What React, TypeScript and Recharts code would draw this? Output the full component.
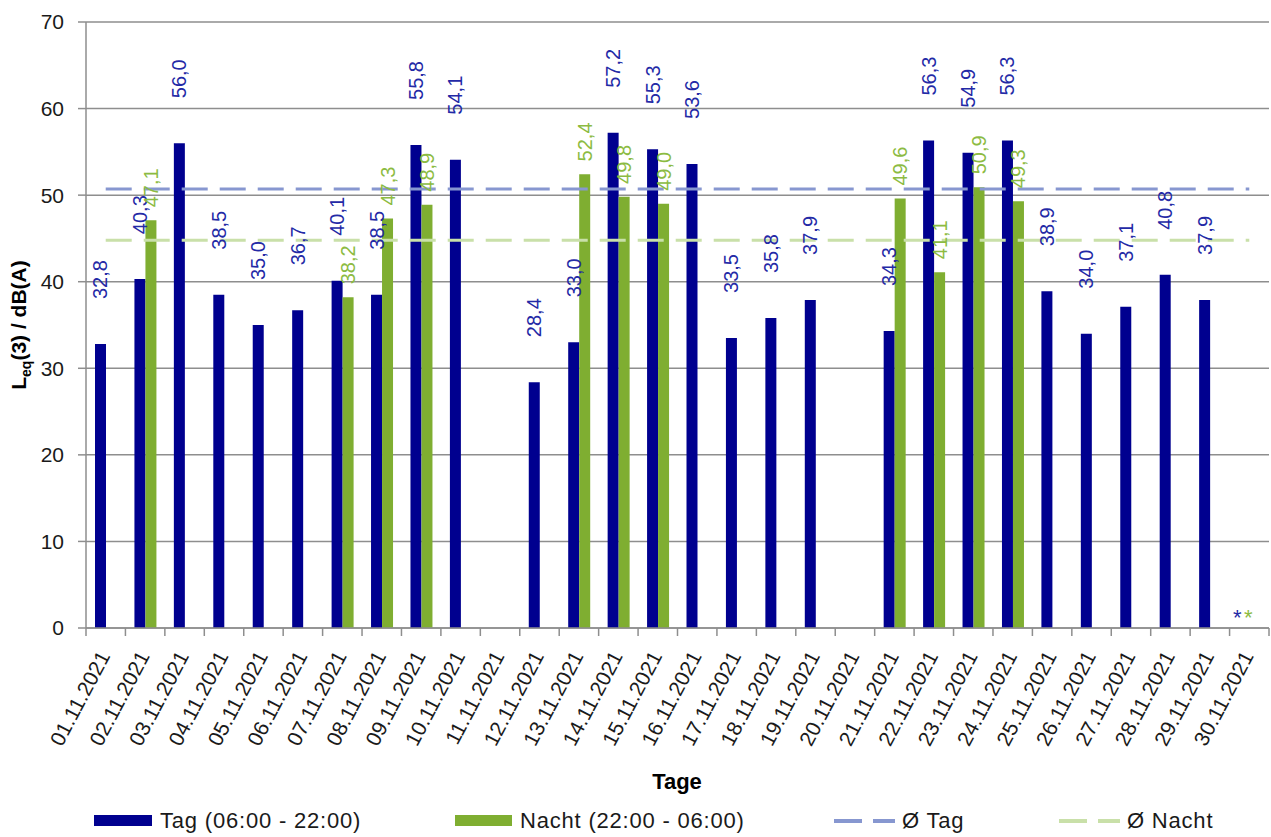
import { Bar, ComposedChart, CartesianGrid, LabelList, Line, ReferenceDot, XAxis, YAxis } from 'recharts';

const days = [
  '01.11.2021', '02.11.2021', '03.11.2021', '04.11.2021', '05.11.2021', '06.11.2021',
  '07.11.2021', '08.11.2021', '09.11.2021', '10.11.2021', '11.11.2021', '12.11.2021',
  '13.11.2021', '14.11.2021', '15.11.2021', '16.11.2021', '17.11.2021', '18.11.2021',
  '19.11.2021', '20.11.2021', '21.11.2021', '22.11.2021', '23.11.2021', '24.11.2021',
  '25.11.2021', '26.11.2021', '27.11.2021', '28.11.2021', '29.11.2021', '30.11.2021',
];

const tagValues = [
  32.8, 40.3, 56.0, 38.5, 35.0, 36.7, 40.1, 38.5, 55.8, 54.1, null, 28.4, 33.0, 57.2, 55.3,
  53.6, 33.5, 35.8, 37.9, null, 34.3, 56.3, 54.9, 56.3, 38.9, 34.0, 37.1, 40.8, 37.9, null,
];

const nachtValues = [
  null, 47.1, null, null, null, null, 38.2, 47.3, 48.9, null, null, null, 52.4, 49.8, 49.0,
  null, null, null, null, null, 49.6, 41.1, 50.9, 49.3, null, null, null, null, null, null,
];

const avgTag = 50.7;
const avgNacht = 44.8;

// days without any measurement, marked with *
const missingDays = ['30.11.2021'];

const yTicks = [0, 10, 20, 30, 40, 50, 60, 70];

const data = days.map((day, i) => ({
  day,
  tag: tagValues[i],
  nacht: nachtValues[i],
  avgTag,
  avgNacht,
}));

const TAG_COLOR = '#00008F';
const NACHT_COLOR = '#7FAE31';
const TAG_LABEL = '#2329A6';
const NACHT_LABEL = '#8CBB42';
const AVG_TAG_COLOR = '#8797D0';
const AVG_NACHT_COLOR = '#C9E0A9';
const GRID = '#8E8E8E';
const FONT = '"Liberation Sans", Arial, sans-serif';

const PLOT_LEFT = 86;
const PLOT_RIGHT = 1269;
const PLOT_BOTTOM = 628;
const BAND = (PLOT_RIGHT - PLOT_LEFT) / days.length;

const fmt = (v: number) => v.toFixed(1).replace('.', ',');

const makeLabel = (color: string, gap: number) => (props: any) => {
  const { x, y, width, value } = props;
  if (value == null) return null;
  const cx = Number(x) + Number(width) / 2;
  const by = Number(y) - gap;
  return (
    <text
      x={cx}
      y={by}
      transform={`rotate(-90 ${cx} ${by})`}
      textAnchor="start"
      dominantBaseline="central"
      fill={color}
      fontSize={20}
      fontFamily={FONT}
    >
      {fmt(Number(value))}
    </text>
  );
};

const DayTick = (props: any) => {
  const { x, y, payload, index } = props;
  const half = BAND / 2;
  const tx = x + 5;
  const ty = y + 28;
  return (
    <g>
      <line x1={x - half} x2={x - half} y1={PLOT_BOTTOM} y2={PLOT_BOTTOM + 8} stroke={GRID} strokeWidth={1.5} />
      {index === days.length - 1 && (
        <line x1={x + half} x2={x + half} y1={PLOT_BOTTOM} y2={PLOT_BOTTOM + 8} stroke={GRID} strokeWidth={1.5} />
      )}
      <text
        x={tx}
        y={ty}
        textAnchor="end"
        transform={`rotate(-62 ${tx} ${ty})`}
        fontSize={21}
        fontFamily={FONT}
        fill="#1a1a1a"
      >
        {payload.value}
      </text>
    </g>
  );
};

const YTitle = () => (
  <text
    x={26}
    y={325}
    transform="rotate(-90 26 325)"
    textAnchor="middle"
    fontSize={21}
    fontWeight="bold"
    fontFamily={FONT}
    fill="#000"
  >
    L<tspan fontSize={14} dy={5}>eq</tspan>
    <tspan dy={-5}>(3)  /  dB(A)</tspan>
  </text>
);

const XTitle = () => (
  <text x={677} y={789} textAnchor="middle" fontSize={22} fontWeight="bold" fontFamily={FONT} fill="#000">
    Tage
  </text>
);

const Stars = (props: any) => {
  const { cx, cy } = props;
  return (
    <g fontFamily={FONT} fontSize={22}>
      <text x={cx - 12} y={cy - 3} textAnchor="middle" fill={TAG_LABEL}>*</text>
      <text x={cx - 1} y={cy - 3} textAnchor="middle" fill={NACHT_LABEL}>*</text>
    </g>
  );
};

const legendText: React.CSSProperties = {
  position: 'absolute',
  top: 808,
  fontFamily: FONT,
  fontSize: 22,
  letterSpacing: '0.8px',
  lineHeight: '26px',
  color: '#1a1a1a',
  whiteSpace: 'nowrap',
};

const Legend = () => (
  <>
    <svg style={{ position: 'absolute', left: 0, top: 800 }} width={1271} height={37}>
      <rect x={94} y={15} width={58} height={11} fill={TAG_COLOR} />
      <rect x={455} y={15} width={57} height={11} fill={NACHT_COLOR} />
      <line x1={834} x2={895} y1={21} y2={21} stroke={AVG_TAG_COLOR} strokeWidth={4} strokeDasharray="28 11" />
      <line x1={1059} x2={1120} y1={21} y2={21} stroke={AVG_NACHT_COLOR} strokeWidth={4} strokeDasharray="28 11" />
    </svg>
    <span style={{ ...legendText, left: 160 }}>Tag (06:00 - 22:00)</span>
    <span style={{ ...legendText, left: 520 }}>Nacht (22:00 - 06:00)</span>
    <span style={{ ...legendText, left: 902 }}>Ø Tag</span>
    <span style={{ ...legendText, left: 1127 }}>Ø Nacht</span>
  </>
);

export default function App() {
  return (
    <div style={{ position: 'absolute', left: 0, top: 0, width: 1271, height: 837, background: '#fff' }}>
      <ComposedChart
        width={1271}
        height={837}
        data={data}
        margin={{ top: 22, right: 1271 - PLOT_RIGHT, bottom: 0, left: 0 }}
        barGap={0}
        barSize={11}
      >
        <CartesianGrid vertical={false} stroke={GRID} strokeWidth={1.5} />
        <XAxis
          dataKey="day"
          interval={0}
          height={837 - PLOT_BOTTOM - 22 + 22}
          tickLine={false}
          tickSize={0}
          tickMargin={0}
          axisLine={{ stroke: GRID, strokeWidth: 1.5 }}
          tick={<DayTick />}
          label={<XTitle />}
        />
        <YAxis
          width={PLOT_LEFT}
          domain={[0, 70]}
          ticks={yTicks}
          interval={0}
          tickSize={8}
          tickMargin={14}
          tickLine={{ stroke: GRID, strokeWidth: 1.5 }}
          axisLine={{ stroke: GRID, strokeWidth: 1.5 }}
          tick={{ fontSize: 21, fill: '#1a1a1a', fontFamily: FONT }}
          label={<YTitle />}
        />
        <Bar dataKey="tag" fill={TAG_COLOR} isAnimationActive={false}>
          <LabelList dataKey="tag" content={makeLabel(TAG_LABEL, 45)} />
        </Bar>
        <Bar dataKey="nacht" fill={NACHT_COLOR} isAnimationActive={false}>
          <LabelList dataKey="nacht" content={makeLabel(NACHT_LABEL, 13)} />
        </Bar>
        <Line
          dataKey="avgTag"
          stroke={AVG_TAG_COLOR}
          strokeWidth={3}
          strokeDasharray="26 12"
          dot={false}
          activeDot={false}
          isAnimationActive={false}
        />
        <Line
          dataKey="avgNacht"
          stroke={AVG_NACHT_COLOR}
          strokeWidth={3}
          strokeDasharray="26 12"
          dot={false}
          activeDot={false}
          isAnimationActive={false}
        />
        {missingDays.map((d) => (
          <ReferenceDot key={d} x={d} y={0} r={0} shape={<Stars />} />
        ))}
      </ComposedChart>
      <Legend />
    </div>
  );
}
